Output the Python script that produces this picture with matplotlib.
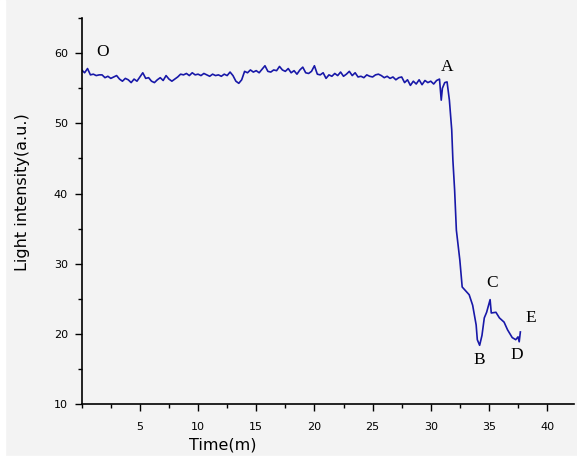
import numpy as np
import matplotlib.pyplot as plt
from matplotlib.ticker import MultipleLocator
from matplotlib.patches import Rectangle

# flat part, sampled every 0.25 min from 0 to 30.75
flatValues = [
    57.6, 57.2, 57.8, 56.9, 57.0, 56.8, 56.9, 56.9,
    56.5, 56.7, 56.4, 56.6, 56.8, 56.3, 56.0, 56.4,
    56.2, 55.8, 56.3, 56.0, 56.6, 57.2, 56.4, 56.5,
    56.0, 55.8, 56.2, 56.5, 56.1, 56.8, 56.3, 56.0,
    56.3, 56.6, 57.0, 56.9, 57.1, 56.8, 57.2, 56.9,
    57.0, 56.8, 57.1, 56.9, 56.7, 57.0, 56.8, 56.9,
    56.7, 57.0, 56.8, 57.3, 56.8, 56.0, 55.7, 56.2,
    57.4, 57.2, 57.6, 57.3, 57.5, 57.2, 57.7, 58.2,
    57.4, 57.3, 57.6, 57.5, 58.1, 57.6, 57.4, 57.8,
    57.2, 57.5, 57.0, 57.6, 58.0, 57.2, 57.1, 57.4,
    58.2, 57.0, 56.9, 57.2, 56.4, 56.9, 56.7, 57.1,
    56.8, 57.3, 56.7, 57.0, 57.4, 56.8, 57.2, 56.6,
    56.7, 56.5, 56.9, 56.7, 56.6, 56.9, 57.0, 56.8,
    56.5, 56.7, 56.4, 56.6, 56.2, 56.5, 56.6, 55.8,
    56.2, 55.4, 56.0, 55.6, 56.2, 55.5, 56.1, 55.8,
    56.0, 55.6, 56.1, 56.3,
]
flatTimes = [0.25 * i for i in range(len(flatValues))]

# drop and recovery region
tailTimes = [30.9, 31.0, 31.2, 31.4, 31.6, 31.8, 31.9, 32.05, 32.2, 32.5, 32.7,
             33.3, 33.6, 33.9, 34.0, 34.2, 34.4, 34.6, 34.8, 35.1, 35.2, 35.6,
             35.9, 36.3, 36.6, 37.0, 37.3, 37.5, 37.6, 37.7]
tailValues = [53.3, 55.0, 55.8, 55.9, 53.3, 49.1, 44.8, 40.5, 34.8, 30.5, 26.7,
              25.6, 24.1, 21.3, 19.2, 18.4, 19.8, 22.3, 23.1, 24.9, 23.0, 23.1,
              22.3, 21.7, 20.6, 19.5, 19.2, 19.6, 18.9, 20.3]

time = np.array(flatTimes + tailTimes)
intensity = np.array(flatValues + tailValues)

pointLabels = ['O', 'A', 'B', 'C', 'D', 'E']
labelX = [1.8, 31.4, 34.2, 35.3, 37.4, 38.6]
labelY = [60.2, 58.0, 16.3, 27.3, 17.0, 22.3]

bgColor = '#f3f3f3'
lineColor = '#1818a8'

fig = plt.figure(figsize=(5.77, 4.61), dpi=100, facecolor=bgColor)
ax = fig.add_axes([0.1416, 0.123, 0.853, 0.838])
ax.set_facecolor(bgColor)

ax.plot(time, intensity, color=lineColor, linewidth=1.2)

for lab, lx, ly in zip(pointLabels, labelX, labelY):
    ax.text(lx, ly, lab, fontsize=12.5, family='Liberation Serif',
            ha='center', va='center', color='black')

ax.set_xlim(0, 42.3)
ax.set_ylim(10, 65)
ax.xaxis.set_minor_locator(MultipleLocator(2.5))
ax.yaxis.set_minor_locator(MultipleLocator(5))
ax.set_xticks([5, 10, 15, 20, 25, 30, 35, 40])
ax.set_yticks([10, 20, 30, 40, 50, 60])
ax.tick_params(axis='x', which='major', labelsize=8, length=5, width=1, direction='out', pad=8)
ax.tick_params(axis='y', which='major', labelsize=8, length=5, width=1, direction='out', pad=5)
ax.tick_params(axis='both', which='minor', length=3, width=1, direction='out')
ax.spines[['right', 'top']].set_visible(False)
ax.spines['left'].set_linewidth(1.2)
ax.spines['bottom'].set_linewidth(1.2)

ax.set_xlabel('Time(m)', fontsize=11.5)
ax.set_ylabel('Light intensity(a.u.)', fontsize=11.5)
ax.xaxis.set_label_coords(0.287, -0.085)
ax.yaxis.set_label_coords(-0.105, 0.55)

# thin white frame at left and bottom edges of the scan
fig.add_artist(Rectangle((0, 0), 0.009, 1, transform=fig.transFigure, color='white', zorder=0))
fig.add_artist(Rectangle((0, 0), 1, 0.011, transform=fig.transFigure, color='white', zorder=0))

fig.savefig('out.png', dpi=100, facecolor=bgColor)
